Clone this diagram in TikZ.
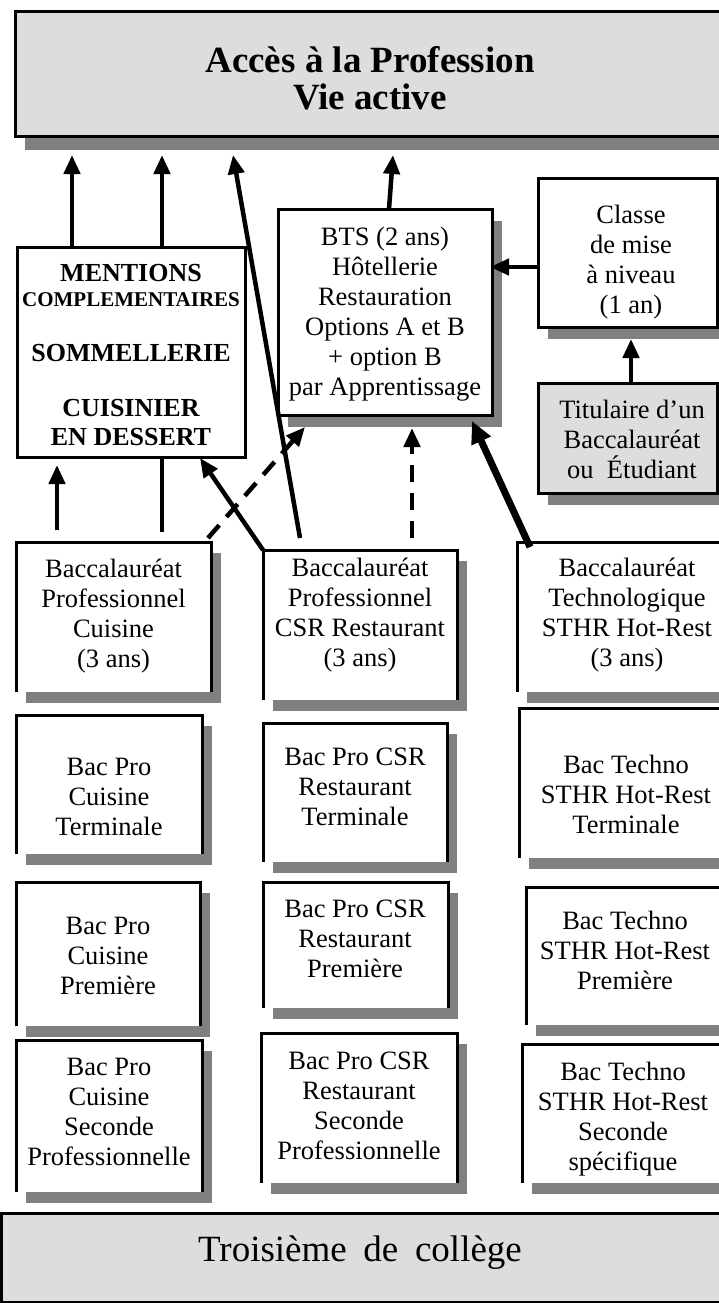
\documentclass[tikz,border=0pt]{standalone}
\usepackage{fontspec}
\setmainfont{Liberation Serif}
\usetikzlibrary{arrows.meta}
\definecolor{shadowgray}{HTML}{808080}
\definecolor{panelgray}{HTML}{DDDDDD}
\tikzset{
  every node/.style={outer sep=0pt},
  boxline/.style={line width=3pt, line join=miter},
  boxtext/.style={align=center, inner sep=0pt, font=\fontsize{26.5}{30}\selectfont},
  menttext/.style={align=center, inner sep=0pt, font=\fontsize{26}{29}\selectfont\bfseries},
  arr/.style={line width=4.5pt, -{Triangle[length=19pt,width=16pt]}},
  plainline/.style={line width=4.5pt},
  dasharr/.style={line width=4.5pt, dash pattern=on 17pt off 11pt, -{Triangle[length=19pt,width=16pt]}},
  thickarr/.style={line width=7pt, -{Triangle[length=22pt,width=20pt]}},
}
% open box: name, x1, y1, x2, y2, text x, text y, text
\newcommand{\openbox}[8]{%
  \fill[shadowgray] (#2+10,#3+11) rectangle (#4+10,#5+11);
  \node[fill=white, inner sep=0pt, minimum width={#4-#2}, minimum height={#5-#3}, anchor=north west] (#1) at (#2,#3) {};
  \draw[boxline] (#2,#5) -- (#2,#3) -- (#4,#3) -- (#4,#5);
  \node[boxtext] (#1t) at (#6,#7) {\strut #8\strut};
}
% full box: name, x1, y1, x2, y2, text x, text y, fill, text
\newcommand{\fullbox}[9]{%
  \fill[shadowgray] (#2+10,#3+12) rectangle (#4+10,#5+12);
  \node[draw, boxline, fill=#8, inner sep=0pt, minimum width={#4-#2}, minimum height={#5-#3}, anchor=north west] (#1) at (#2,#3) {};
  \node[boxtext] (#1t) at (#6,#7) {\strut #9\strut};
}
\begin{document}
\begin{tikzpicture}[x=1pt, y=-1pt]
\clip (0,0) rectangle (719,1303);
\fill[white] (0,0) rectangle (719,1303);

% top panel
\fill[shadowgray] (25,25) rectangle (735,150);
\node[draw, boxline, fill=panelgray, inner sep=0pt, minimum width=710, minimum height=125, anchor=north west] (top) at (15,12) {};
\node[align=center, inner sep=0pt, font=\fontsize{37}{34}\selectfont\bfseries] (topt) at (370,83) {\strut Accès à la Profession\\Vie active\strut};

% mentions
\node[draw, boxline, fill=white, inner sep=0pt, minimum width=228, minimum height=210, anchor=north west] (ment) at (17,247) {};
\node[menttext] (mentA) at (131,273) {MENTIONS};
\node[menttext, font=\fontsize{21}{25}\selectfont\bfseries] (mentB) at (131,300) {COMPLEMENTAIRES};
\node[menttext] (mentC) at (131,353) {SOMMELLERIE};
\node[menttext] (mentD) at (131,422.5) {CUISINIER\\EN DESSERT};

% BTS, classe, titulaire
\fullbox{bts}{278}{209}{492}{415}{385}{314.5}{white}{BTS (2 ans)\\Hôtellerie\\Restauration\\Options A et B\\+ option B\\par Apprentissage}
\fullbox{cls}{538}{178}{717}{327}{631}{262}{white}{Classe\\de mise\\à niveau\\(1 an)}
\fullbox{tit}{538}{383}{717}{493}{632}{442}{panelgray}{Titulaire d’un\\Baccalauréat\\ou~ Étudiant}

% row boxes
\openbox{bpcA}{16}{542}{211}{692}{113.5}{616}{Baccalauréat\\Professionnel\\Cuisine\\(3 ans)}
\openbox{csrA}{263}{550}{457}{700}{360}{615.5}{Baccalauréat\\Professionnel\\CSR Restaurant\\(3 ans)}
\openbox{tecA}{517}{542}{738}{692}{627}{615.5}{Baccalauréat\\Technologique\\STHR Hot-Rest\\(3 ans)}
\openbox{bpcB}{16}{715}{202}{854}{109}{799}{Bac Pro\\Cuisine\\Terminale}
\openbox{csrB}{263}{723}{447}{862}{355}{789.5}{Bac Pro CSR\\Restaurant\\Terminale}
\openbox{tecB}{519}{708}{733}{858}{626}{797}{Bac Techno\\STHR Hot-Rest\\Terminale}
\openbox{bpcC}{16}{882}{200}{1026}{108}{958}{Bac Pro\\Cuisine\\Première}
\openbox{csrC}{263}{882}{448}{1008}{355}{941}{Bac Pro CSR\\Restaurant\\Première}
\openbox{tecC}{526}{887}{724}{1025}{625}{953}{Bac Techno\\STHR Hot-Rest\\Première}
\openbox{bpcD}{16}{1040}{202}{1192}{109}{1114.5}{Bac Pro\\Cuisine\\Seconde\\Professionnelle}
\openbox{csrD}{261}{1033}{457}{1183}{359}{1108}{Bac Pro CSR\\Restaurant\\Seconde\\Professionnelle}
\openbox{tecD}{522}{1044}{724}{1183}{623}{1119}{Bac Techno\\STHR Hot-Rest\\Seconde\\spécifique}

% bottom panel
\node[draw, boxline, fill=panelgray, inner sep=0pt, minimum width=726, minimum height=89, anchor=north west] (bot) at (1,1213) {};
\node[inner sep=0pt, font=\fontsize{37}{40}\selectfont] (bott) at (360,1253) {Troisième\hspace{0.45em}de\hspace{0.45em}collège};

% connectors to top panel
\draw[arr] ([xshift=55pt]ment.north west) -- ([xshift=57pt,yshift=-18pt]top.south west);
\draw[arr] ([xshift=145pt]ment.north west) -- ([xshift=147pt,yshift=-18pt]top.south west);
\draw[arr] ([xshift=37pt,yshift=12pt]csrA.north west) -- ([xshift=218pt,yshift=-18pt]top.south west);
\draw[arr] ([xshift=111pt]bts.north west) -- ([xshift=378pt,yshift=-18pt]top.south west);

% connectors from row 1
\draw[arr] ([xshift=41pt,yshift=12pt]bpcA.north west) -- ([xshift=40pt,yshift=-8pt]ment.south west);
\draw[plainline] ([xshift=146pt,yshift=10pt]bpcA.north west) -- ([xshift=145pt]ment.south west);
\draw[arr] (csrA.north west) -- ([xshift=183pt,yshift=-1pt]ment.south west);
\draw[dasharr] ([xshift=-3pt,yshift=4pt]bpcA.north east) -- ([xshift=27pt,yshift=-12pt]bts.south west);
\draw[dasharr] ([xshift=149pt,yshift=12pt]csrA.north west) -- ([xshift=134pt,yshift=-13pt]bts.south west);
\draw[thickarr] ([xshift=13pt,yshift=-5pt]tecA.north west) -- ([xshift=-20pt,yshift=-6pt]bts.south east);

% right column
\draw[arr] ([yshift=-89pt]cls.north west) -- ([xshift=-2pt,yshift=-58pt]bts.north east);
\draw[arr] ([xshift=93pt]tit.north west) -- ([xshift=93pt,yshift=-12pt]cls.south west);
\end{tikzpicture}
\end{document}
